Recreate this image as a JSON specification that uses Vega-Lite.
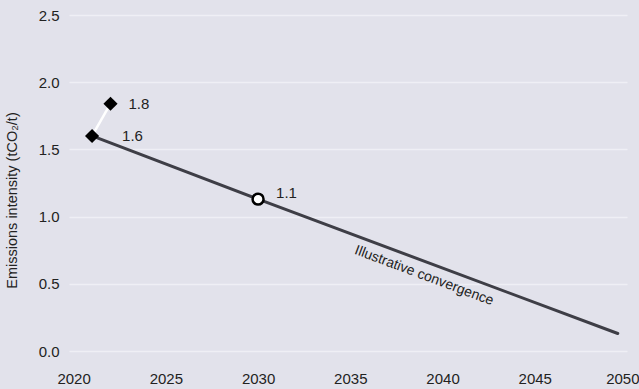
{
  "$schema": "https://vega.github.io/schema/vega-lite/v6.json",
  "width": 558,
  "height": 336,
  "autosize": {"type": "none"},
  "padding": {"left": 69, "top": 15, "right": 12, "bottom": 38},
  "background": "#e2e2eb",
  "config": {
    "view": {"stroke": null},
    "font": "Liberation Sans",
    "axis": {
      "labelFont": "Liberation Sans",
      "labelFontSize": 15,
      "labelColor": "#222222",
      "titleFont": "Liberation Sans",
      "titleFontWeight": "normal",
      "titleColor": "#222222",
      "ticks": false,
      "domain": false
    }
  },
  "datasets": {
    "actual": [
      {"year": 2021, "value": 1.6},
      {"year": 2022, "value": 1.84}
    ],
    "target": [
      {"year": 2030, "value": 1.13}
    ],
    "convergence": [
      {"year": 2021, "value": 1.6},
      {"year": 2030, "value": 1.13},
      {"year": 2049.5, "value": 0.13}
    ],
    "annotation": [
      {"year": 2039.0, "value": 0.56, "label": "Illustrative convergence"}
    ]
  },
  "encoding": {
    "x": {
      "field": "year",
      "type": "quantitative",
      "scale": {"domain": [2019.75, 2050], "nice": false, "zero": false},
      "axis": {
        "values": [2020, 2025, 2030, 2035, 2040, 2045, 2050],
        "format": "d",
        "grid": false,
        "labelPadding": 20,
        "labelFlush": true,
        "labelFlushOffset": 12,
        "title": null
      }
    },
    "y": {
      "field": "value",
      "type": "quantitative",
      "scale": {"domain": [0, 2.5], "nice": false},
      "axis": {
        "values": [0, 0.5, 1, 1.5, 2, 2.5],
        "format": ".1f",
        "grid": true,
        "gridColor": "#efeff5",
        "gridWidth": 1.5,
        "labelPadding": 10,
        "title": "Emissions intensity (tCO₂/t)",
        "titleFontSize": 14.5,
        "titleAngle": -90,
        "titleX": -57,
        "titleY": 185,
        "titleAlign": "center",
        "titleBaseline": "middle"
      }
    }
  },
  "layer": [
    {
      "data": {"name": "convergence"},
      "mark": {"type": "line", "color": "#3e3e46", "strokeWidth": 3, "strokeCap": "round"}
    },
    {
      "data": {"name": "actual"},
      "mark": {"type": "line", "color": "#ffffff", "strokeWidth": 2.5}
    },
    {
      "data": {"name": "actual"},
      "mark": {"type": "point", "shape": "diamond", "filled": true, "color": "#000000", "size": 200, "opacity": 1}
    },
    {
      "data": {"name": "target"},
      "mark": {"type": "point", "shape": "circle", "filled": true, "fill": "#ffffff", "stroke": "#000000", "strokeWidth": 2.5, "size": 120, "opacity": 1}
    },
    {
      "data": {"name": "actual"},
      "transform": [{"filter": "datum.year == 2022"}],
      "mark": {"type": "text", "align": "left", "baseline": "middle", "dx": 18, "fontSize": 15, "color": "#222222"},
      "encoding": {"text": {"field": "value", "type": "quantitative", "format": ".1f"}}
    },
    {
      "data": {"name": "actual"},
      "transform": [{"filter": "datum.year == 2021"}],
      "mark": {"type": "text", "align": "left", "baseline": "middle", "dx": 30, "dy": 0, "fontSize": 15, "color": "#222222"},
      "encoding": {"text": {"field": "value", "type": "quantitative", "format": ".1f"}}
    },
    {
      "data": {"name": "target"},
      "mark": {"type": "text", "align": "left", "baseline": "middle", "dx": 18, "dy": -6, "fontSize": 15, "color": "#222222"},
      "encoding": {"text": {"field": "value", "type": "quantitative", "format": ".1f"}}
    },
    {
      "data": {"name": "annotation"},
      "mark": {"type": "text", "angle": 20.6, "align": "center", "baseline": "middle", "fontSize": 14, "color": "#222222"},
      "encoding": {"text": {"field": "label", "type": "nominal"}}
    }
  ]
}
